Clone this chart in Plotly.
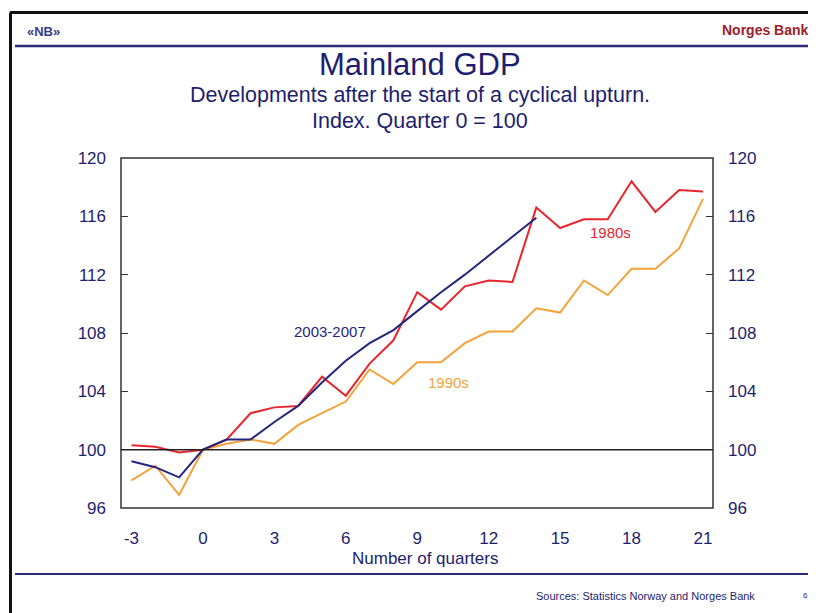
import plotly.graph_objects as go

quarters = list(range(-3, 22))
gdp_2003_2007 = [99.2, 98.8, 98.1, 100.0, 100.7, 100.7, 101.9, 103.0, 104.6, 106.1, 107.3, 108.2,
                 109.5, 110.8, 112.0, 113.3, 114.6, 115.9]
gdp_1980s = [100.3, 100.2, 99.8, 100.0, 100.7, 102.5, 102.9, 103.0, 105.0, 103.7, 105.9, 107.5,
             110.8, 109.6, 111.2, 111.6, 111.5, 116.6, 115.2, 115.8, 115.8, 118.4, 116.3, 117.8, 117.7]
gdp_1990s = [97.9, 98.9, 96.9, 100.0, 100.4, 100.7, 100.4, 101.7, 102.5, 103.3, 105.5, 104.5,
             106.0, 106.0, 107.3, 108.1, 108.1, 109.7, 109.4, 111.6, 110.6, 112.4, 112.4, 113.8, 117.2]
y_ticks = [96, 100, 104, 108, 112, 116, 120]
x_ticks = [-3, 0, 3, 6, 9, 12, 15, 18, 21]
x_tick_labels = ["-3", "0", "3", "6", "9", "12", "15", "18", "21"]

NAVY = "#1e1e6e"
BLUE = "#25257f"
RED = "#e8262e"
ORANGE = "#f5a23a"
FONT = "Liberation Sans, Arial, sans-serif"

# page has an 8px body margin; layout measured in reference pixels is shifted by it
W, H = 808, 605
L, R, T, B = 113, 103, 150, 105
PW, PH = W - L - R, H - T - B


def px(rx):
    return (rx - 8 - L) / PW


def py(ry):
    return (H - B - (ry - 8)) / PH


fig = go.Figure()
fig.add_trace(go.Scatter(x=quarters, y=gdp_1990s, mode="lines", line=dict(color=ORANGE, width=2), name="1990s"))
fig.add_trace(go.Scatter(x=quarters, y=gdp_1980s, mode="lines", line=dict(color=RED, width=2), name="1980s"))
fig.add_trace(go.Scatter(x=quarters[:len(gdp_2003_2007)], y=gdp_2003_2007, mode="lines",
                         line=dict(color=BLUE, width=2), name="2003-2007"))
fig.add_trace(go.Scatter(x=[None], y=[None], yaxis="y2", showlegend=False, hoverinfo="skip"))

axis_common = dict(range=[96, 120], tickvals=y_ticks, ticks="inside", ticklen=7, tickcolor="#333",
                   tickwidth=1.2, showgrid=False, zeroline=False, showline=False, ticklabelstandoff=14,
                   tickfont=dict(size=17, color=NAVY, family=FONT))

fig.update_layout(
    width=W, height=H,
    margin=dict(l=L, r=R, t=T, b=B),
    paper_bgcolor="white", plot_bgcolor="white",
    showlegend=False,
    font=dict(family=FONT, color=NAVY),
    xaxis=dict(range=[-3.44, 21.42], tickvals=x_ticks, ticktext=x_tick_labels, showgrid=False,
               zeroline=False, showline=False, ticks="", ticklabelstandoff=18,
               tickfont=dict(size=17, color=NAVY, family=FONT)),
    yaxis=dict(side="left", **axis_common),
    yaxis2=dict(side="right", overlaying="y", matches="y", **axis_common),
    shapes=[
        dict(type="rect", xref="paper", yref="paper", x0=0, x1=1, y0=0, y1=1,
             line=dict(color="#333", width=1.5)),
        dict(type="line", xref="paper", yref="y", x0=0, x1=1, y0=100, y1=100,
             line=dict(color="#222", width=1.5)),
        dict(type="line", xref="paper", yref="paper", x0=px(10), x1=px(820),
             y0=py(12.5), y1=py(12.5), line=dict(color="#111", width=3)),
        dict(type="line", xref="paper", yref="paper", x0=px(10.5), x1=px(10.5),
             y0=py(12.5), y1=py(620), line=dict(color="#111", width=3)),
        dict(type="line", xref="paper", yref="paper", x0=px(15), x1=px(820),
             y0=py(46), y1=py(46), line=dict(color="#2a2a78", width=2.5)),
        dict(type="line", xref="paper", yref="paper", x0=px(15), x1=px(820),
             y0=py(574), y1=py(574), line=dict(color="#2a2a78", width=2)),
    ],
    annotations=[
        dict(text="Mainland GDP", xref="paper", yref="paper", x=px(420), y=py(64),
             showarrow=False, font=dict(size=31, color=NAVY), xanchor="center", yanchor="middle"),
        dict(text="Developments after the start of a cyclical upturn.", xref="paper", yref="paper",
             x=px(420), y=py(95), showarrow=False, font=dict(size=21.5, color=NAVY),
             xanchor="center", yanchor="middle"),
        dict(text="Index. Quarter 0 = 100", xref="paper", yref="paper",
             x=px(420), y=py(121), showarrow=False, font=dict(size=21.5, color=NAVY),
             xanchor="center", yanchor="middle"),
        dict(text="Number of quarters", xref="paper", yref="paper",
             x=px(425), y=py(558), showarrow=False, font=dict(size=17, color=NAVY),
             xanchor="center", yanchor="middle"),
        dict(text="<b>«NB»</b>", xref="paper", yref="paper",
             x=px(25), y=py(31.5), showarrow=False, font=dict(size=13, color="#3a3a8a"),
             xanchor="left", yanchor="middle"),
        dict(text="<b>Norges Bank</b>", xref="paper", yref="paper",
             x=px(811), y=py(30), showarrow=False, font=dict(size=14, color="#a0202a"),
             xanchor="right", yanchor="middle"),
        dict(text="Sources: Statistics Norway and Norges Bank", xref="paper", yref="paper",
             x=px(757), y=py(595.5), showarrow=False, font=dict(size=11, color=NAVY),
             xanchor="right", yanchor="middle"),
        dict(text="6", xref="paper", yref="paper",
             x=px(805), y=py(595.5), showarrow=False, font=dict(size=8, color=NAVY),
             xanchor="center", yanchor="middle"),
        dict(text="2003-2007", x=5.33, y=108.1, showarrow=False, font=dict(size=15, color=BLUE)),
        dict(text="1980s", x=17.1, y=114.9, showarrow=False, font=dict(size=15, color=RED)),
        dict(text="1990s", x=10.3, y=104.6, showarrow=False, font=dict(size=15, color=ORANGE)),
    ],
)

fig.write_html("out.html")
